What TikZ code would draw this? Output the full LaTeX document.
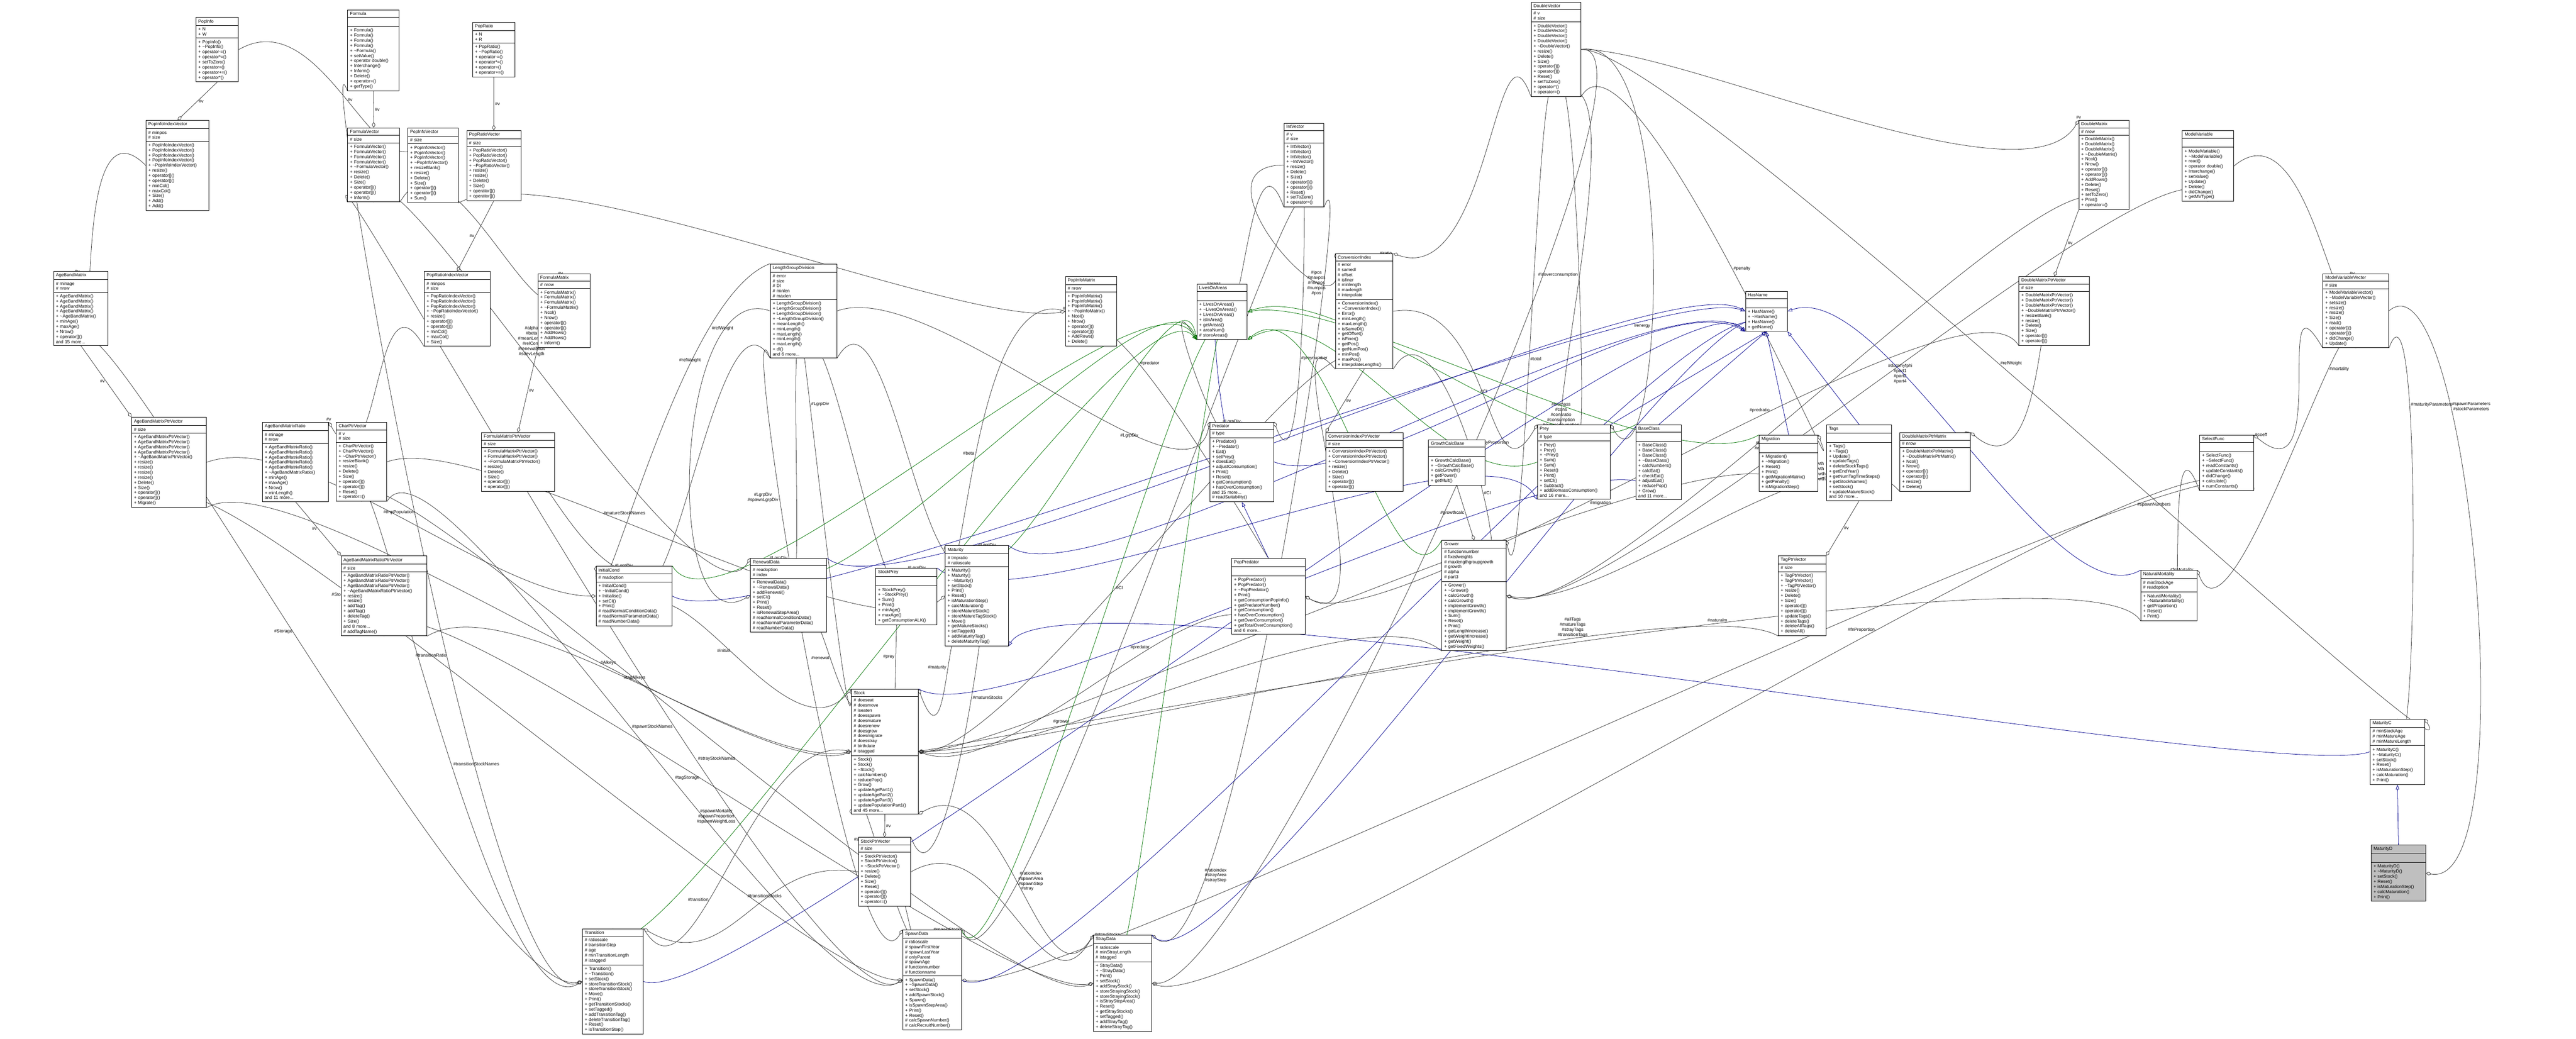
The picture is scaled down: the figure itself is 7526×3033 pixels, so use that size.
\documentclass[tikz,border=0pt]{standalone}
\usepackage{fontspec}
\setmainfont{Liberation Sans}
\usetikzlibrary{shapes.multipart,arrows.meta}
\pgfdeclarelayer{bg}
\pgfsetlayers{bg,main}
\newcommand{\ti}{\textasciitilde}
\newcommand{\cls}[7]{%
  \pgfmathsetmacro\clsw{#4*0.3-4}%
  \node[cls,text width=\clsw pt] (#1) at (#2,#3) {\centering #5\nodepart{two}#6\nodepart{three}#7};}
\newcommand{\clsg}[7]{%
  \pgfmathsetmacro\clsw{#4*0.3-4}%
  \node[cls,text width=\clsw pt,rectangle split part fill={black!25}] (#1) at (#2,#3) {\centering #5\nodepart{two}#6\nodepart{three}#7};}
\newcommand{\cv}[5]{(#1) .. controls +(#2:300) and +(#3:300) .. (#4) node[lbl,#5]}

\begin{document}
\begin{tikzpicture}[x=0.3pt,y=-0.3pt,
  cls/.style={draw, anchor=north west, rectangle split, rectangle split parts=3,
    rectangle split part fill={white}, inner xsep=2pt, inner ysep=1.6pt,
    font=\fontsize{3.9}{4.45}\selectfont, line width=0.45pt},
  uses/.style={draw=black!80, line width=0.35pt, -{Diamond[open,length=5pt,width=3pt]}},
  isa/.style={draw=blue!55!black, line width=0.35pt, -{Triangle[open,length=4pt,width=3pt]}},
  isap/.style={draw=green!45!black, line width=0.35pt, -{Triangle[open,length=4pt,width=3pt]}},
  lbl/.style={font=\fontsize{3.9}{4.45}\selectfont, align=center, inner sep=1pt}]
  \useasboundingbox (0,0) rectangle (7526,3033);

  \cls{popinfo}{572}{50}{124}{PopInfo}{+ N\\+ W}{+ PopInfo()\\+ \ti PopInfo()\\+ operator-=()\\+ operator*=()\\+ setToZero()\\+ operator=()\\+ operator+=()\\+ operator*()}
  \cls{formula}{1015}{28}{150}{Formula}{\strut}{+ Formula()\\+ Formula()\\+ Formula()\\+ Formula()\\+ \ti Formula()\\+ setValue()\\+ operator double()\\+ Interchange()\\+ Inform()\\+ Delete()\\+ operator=()\\+ getType()}
  \cls{popratio}{1380}{65}{124}{PopRatio}{+ N\\+ R}{+ PopRatio()\\+ \ti PopRatio()\\+ operator-=()\\+ operator*=()\\+ operator=()\\+ operator+=()}
  \cls{popinfoindexvector}{426}{351}{184}{PopInfoIndexVector}{\# minpos\\\# size}{+ PopInfoIndexVector()\\+ PopInfoIndexVector()\\+ PopInfoIndexVector()\\+ PopInfoIndexVector()\\+ \ti PopInfoIndexVector()\\+ resize()\\+ operator[]()\\+ operator[]()\\+ minCol()\\+ maxCol()\\+ Size()\\+ Add()\\+ Add()}
  \cls{formulavector}{1015}{373}{152}{FormulaVector}{\# size}{+ FormulaVector()\\+ FormulaVector()\\+ FormulaVector()\\+ FormulaVector()\\+ \ti FormulaVector()\\+ resize()\\+ Delete()\\+ Size()\\+ operator[]()\\+ operator[]()\\+ Inform()}
  \cls{popinfovector}{1191}{373}{147}{PopInfoVector}{\# size}{+ PopInfoVector()\\+ PopInfoVector()\\+ PopInfoVector()\\+ \ti PopInfoVector()\\+ resizeBlank()\\+ resize()\\+ Delete()\\+ Size()\\+ operator[]()\\+ operator[]()\\+ Sum()}
  \cls{popratiovector}{1363}{381}{158}{PopRatioVector}{\# size}{+ PopRatioVector()\\+ PopRatioVector()\\+ PopRatioVector()\\+ \ti PopRatioVector()\\+ resize()\\+ resize()\\+ Delete()\\+ Size()\\+ operator[]()\\+ operator[]()}
  \cls{agebandmatrix}{156}{792}{159}{AgeBandMatrix}{\# minage\\\# nrow}{+ AgeBandMatrix()\\+ AgeBandMatrix()\\+ AgeBandMatrix()\\+ AgeBandMatrix()\\+ \ti AgeBandMatrix()\\+ minAge()\\+ maxAge()\\+ Nrow()\\+ operator[]()\\and 15 more...}
  \cls{popratioindexvector}{1239}{792}{192}{PopRatioIndexVector}{\# minpos\\\# size}{+ PopRatioIndexVector()\\+ PopRatioIndexVector()\\+ PopRatioIndexVector()\\+ \ti PopRatioIndexVector()\\+ resize()\\+ operator[]()\\+ operator[]()\\+ minCol()\\+ maxCol()\\+ Size()}
  \cls{formulamatrix}{1571}{799}{153}{FormulaMatrix}{\# nrow}{+ FormulaMatrix()\\+ FormulaMatrix()\\+ FormulaMatrix()\\+ \ti FormulaMatrix()\\+ Ncol()\\+ Nrow()\\+ operator[]()\\+ operator[]()\\+ AddRows()\\+ AddRows()\\+ Inform()}
  \cls{lengthgroupdivision}{2250}{770}{194}{LengthGroupDivision}{\# error\\\# size\\\# Dl\\\# minlen\\\# maxlen}{+ LengthGroupDivision()\\+ LengthGroupDivision()\\+ LengthGroupDivision()\\+ \ti LengthGroupDivision()\\+ meanLength()\\+ minLength()\\+ maxLength()\\+ minLength()\\+ maxLength()\\+ dl()\\and 6 more...}
  \cls{intvector}{3751}{359}{116}{IntVector}{\# v\\\# size}{+ IntVector()\\+ IntVector()\\+ IntVector()\\+ \ti IntVector()\\+ resize()\\+ Delete()\\+ Size()\\+ operator[]()\\+ operator[]()\\+ Reset()\\+ setToZero()\\+ operator=()}
  \cls{popinfomatrix}{3112}{807}{149}{PopInfoMatrix}{\# nrow}{+ PopInfoMatrix()\\+ PopInfoMatrix()\\+ PopInfoMatrix()\\+ \ti PopInfoMatrix()\\+ Ncol()\\+ Nrow()\\+ operator[]()\\+ operator[]()\\+ AddRows()\\+ Delete()}
  \cls{livesonareas}{3496}{829}{147}{LivesOnAreas}{\strut}{+ LivesOnAreas()\\+ \ti LivesOnAreas()\\+ LivesOnAreas()\\+ isInArea()\\+ getAreas()\\+ areaNum()\\\# storeAreas()}
  \cls{doublevector}{4473}{6}{145}{DoubleVector}{\# v\\\# size}{+ DoubleVector()\\+ DoubleVector()\\+ DoubleVector()\\+ DoubleVector()\\+ \ti DoubleVector()\\+ resize()\\+ Delete()\\+ Size()\\+ operator[]()\\+ operator[]()\\+ Reset()\\+ setToZero()\\+ operator*()\\+ operator=()}
  \cls{conversionindex}{3901}{740}{168}{ConversionIndex}{\# error\\\# samedl\\\# offset\\\# isfiner\\\# minlength\\\# maxlength\\\# interpolate}{+ ConversionIndex()\\+ \ti ConversionIndex()\\+ Error()\\+ minLength()\\+ maxLength()\\+ isSameDl()\\+ getOffset()\\+ isFiner()\\+ getPos()\\+ getNumPos()\\+ minPos()\\+ maxPos()\\+ interpolateLengths()}
  \cls{hasname}{5099}{850}{122}{HasName}{\strut}{+ HasName()\\+ \ti HasName()\\+ HasName()\\+ getName()}
  \cls{doublematrix}{6073}{351}{146}{DoubleMatrix}{\# nrow}{+ DoubleMatrix()\\+ DoubleMatrix()\\+ DoubleMatrix()\\+ \ti DoubleMatrix()\\+ Ncol()\\+ Nrow()\\+ operator[]()\\+ operator[]()\\+ AddRows()\\+ Delete()\\+ Reset()\\+ setToZero()\\+ Print()\\+ operator=()}
  \cls{modelvariable}{6375}{381}{150}{ModelVariable}{\strut}{+ ModelVariable()\\+ \ti ModelVariable()\\+ read()\\+ operator double()\\+ Interchange()\\+ setValue()\\+ Update()\\+ Delete()\\+ didChange()\\+ getMVType()}
  \cls{doublematrixptrvector}{5898}{807}{206}{DoubleMatrixPtrVector}{\# size}{+ DoubleMatrixPtrVector()\\+ DoubleMatrixPtrVector()\\+ DoubleMatrixPtrVector()\\+ \ti DoubleMatrixPtrVector()\\+ resizeBlank()\\+ resize()\\+ Delete()\\+ Size()\\+ operator[]()\\+ operator[]()}
  \cls{modelvariablevector}{6786}{799}{192}{ModelVariableVector}{\# size}{+ ModelVariableVector()\\+ \ti ModelVariableVector()\\+ setsize()\\+ resize()\\+ resize()\\+ Size()\\+ read()\\+ operator[]()\\+ operator[]()\\+ didChange()\\+ Update()}
  \cls{agebandmatrixptrvector}{384}{1218}{218}{AgeBandMatrixPtrVector}{\# size}{+ AgeBandMatrixPtrVector()\\+ AgeBandMatrixPtrVector()\\+ AgeBandMatrixPtrVector()\\+ AgeBandMatrixPtrVector()\\+ \ti AgeBandMatrixPtrVector()\\+ resize()\\+ resize()\\+ resize()\\+ resize()\\+ Delete()\\+ Size()\\+ operator[]()\\+ operator[]()\\+ Migrate()}
  \cls{agebandmatrixratio}{766}{1233}{193}{AgeBandMatrixRatio}{\# minage\\\# nrow}{+ AgeBandMatrixRatio()\\+ AgeBandMatrixRatio()\\+ AgeBandMatrixRatio()\\+ AgeBandMatrixRatio()\\+ AgeBandMatrixRatio()\\+ \ti AgeBandMatrixRatio()\\+ minAge()\\+ maxAge()\\+ Nrow()\\+ minLength()\\and 11 more...}
  \cls{charptrvector}{982}{1233}{147}{CharPtrVector}{\# v\\\# size}{+ CharPtrVector()\\+ CharPtrVector()\\+ \ti CharPtrVector()\\+ resizeBlank()\\+ resize()\\+ Delete()\\+ Size()\\+ operator[]()\\+ operator[]()\\+ Reset()\\+ operator=()}
  \cls{formulamatrixptrvector}{1406}{1263}{213}{FormulaMatrixPtrVector}{\# size}{+ FormulaMatrixPtrVector()\\+ FormulaMatrixPtrVector()\\+ \ti FormulaMatrixPtrVector()\\+ resize()\\+ Delete()\\+ Size()\\+ operator[]()\\+ operator[]()}
  \cls{agebandmatrixratioptrvector}{996}{1623}{250}{AgeBandMatrixRatioPtrVector}{\# size}{+ AgeBandMatrixRatioPtrVector()\\+ AgeBandMatrixRatioPtrVector()\\+ AgeBandMatrixRatioPtrVector()\\+ \ti AgeBandMatrixRatioPtrVector()\\+ resize()\\+ resize()\\+ addTag()\\+ addTag()\\+ deleteTag()\\+ Size()\\and 8 more...\\\# addTagName()}
  \cls{initialcond}{1741}{1653}{222}{InitialCond}{\# readoption}{+ InitialCond()\\+ \ti InitialCond()\\+ Initialise()\\+ setCI()\\+ Print()\\\# readNormalConditionData()\\\# readNormalParameterData()\\\# readNumberData()}
  \cls{predator}{3534}{1232}{187}{Predator}{\# type}{+ Predator()\\+ \ti Predator()\\+ Eat()\\+ setPrey()\\+ doesEat()\\+ adjustConsumption()\\+ Print()\\+ Reset()\\+ getConsumption()\\+ hasOverConsumption()\\and 15 more...\\\# readSuitability()}
  \cls{renewaldata}{2192}{1630}{223}{RenewalData}{\# readoption\\\# index}{+ RenewalData()\\+ \ti RenewalData()\\+ addRenewal()\\+ setCI()\\+ Print()\\+ Reset()\\+ isRenewalStepArea()\\\# readNormalConditionData()\\\# readNormalParameterData()\\\# readNumberData()}
  \cls{stockprey}{2558}{1659}{179}{StockPrey}{\strut}{+ StockPrey()\\+ \ti StockPrey()\\+ Sum()\\+ Print()\\+ minAge()\\+ maxAge()\\+ getConsumptionALK()}
  \cls{maturity}{2761}{1593}{184}{Maturity}{\# tmpratio\\\# ratioscale}{+ Maturity()\\+ Maturity()\\+ \ti Maturity()\\+ setStock()\\+ Print()\\+ Reset()\\+ isMaturationStep()\\+ calcMaturation()\\+ storeMatureStock()\\+ storeMatureTagStock()\\+ Move()\\+ getMatureStocks()\\+ setTagged()\\+ addMaturityTag()\\+ deleteMaturityTag()}
  \cls{poppredator}{3598}{1630}{214}{PopPredator}{\strut}{+ PopPredator()\\+ PopPredator()\\+ \ti PopPredator()\\+ Print()\\+ getConsumptionPopInfo()\\+ getPredatorNumber()\\+ getConsumption()\\+ hasOverConsumption()\\+ getOverConsumption()\\+ getTotalOverConsumption()\\and 6 more...}
  \cls{conversionindexptrvector}{3873}{1263}{225}{ConversionIndexPtrVector}{\# size}{+ ConversionIndexPtrVector()\\+ ConversionIndexPtrVector()\\+ \ti ConversionIndexPtrVector()\\+ resize()\\+ Delete()\\+ Size()\\+ operator[]()\\+ operator[]()}
  \cls{growthcalcbase}{4173}{1284}{165}{GrowthCalcBase}{\strut}{+ GrowthCalcBase()\\+ \ti GrowthCalcBase()\\+ calcGrowth()\\+ getPower()\\+ getMult()}
  \cls{prey}{4491}{1240}{213}{Prey}{\# type}{+ Prey()\\+ Prey()\\+ \ti Prey()\\+ Sum()\\+ Sum()\\+ Reset()\\+ Print()\\+ setCI()\\+ Subtract()\\+ addBiomassConsumption()\\and 16 more...}
  \cls{baseclass}{4779}{1240}{133}{BaseClass}{\strut}{+ BaseClass()\\+ BaseClass()\\+ BaseClass()\\+ \ti BaseClass()\\+ calcNumbers()\\+ calcEat()\\+ checkEat()\\+ adjustEat()\\+ reducePop()\\+ Grow()\\and 11 more...}
  \cls{migration}{5139}{1270}{172}{Migration}{\strut}{+ Migration()\\+ \ti Migration()\\+ Reset()\\+ Print()\\+ getMigrationMatrix()\\+ getPenalty()\\+ isMigrationStep()}
  \cls{tags}{5336}{1240}{190}{Tags}{\strut}{+ Tags()\\+ \ti Tags()\\+ Update()\\+ updateTags()\\+ deleteStockTags()\\+ getEndYear()\\+ getNumTagTimeSteps()\\+ getStockNames()\\+ setStock()\\+ updateMatureStock()\\and 10 more...}
  \cls{doublematrixptrmatrix}{5550}{1263}{206}{DoubleMatrixPtrMatrix}{\# nrow}{+ DoubleMatrixPtrMatrix()\\+ \ti DoubleMatrixPtrMatrix()\\+ Ncol()\\+ Nrow()\\+ operator[]()\\+ operator[]()\\+ resize()\\+ Delete()}
  \cls{grower}{4212}{1578}{188}{Grower}{\# functionnumber\\\# fixedweights\\\# maxlengthgroupgrowth\\\# growth\\\# alpha\\\# part3}{+ Grower()\\+ \ti Grower()\\+ calcGrowth()\\+ calcGrowth()\\+ implementGrowth()\\+ implementGrowth()\\+ Sum()\\+ Reset()\\+ Print()\\+ getLengthIncrease()\\+ getWeightIncrease()\\+ getWeight()\\+ getFixedWeights()}
  \cls{tagptrvector}{5195}{1623}{139}{TagPtrVector}{\# size}{+ TagPtrVector()\\+ TagPtrVector()\\+ \ti TagPtrVector()\\+ resize()\\+ Delete()\\+ Size()\\+ operator[]()\\+ operator[]()\\+ updateTags()\\+ deleteTags()\\+ deleteAllTags()\\+ deleteAll()}
  \cls{selectfunc}{6426}{1270}{157}{SelectFunc}{\strut}{+ SelectFunc()\\+ \ti SelectFunc()\\+ readConstants()\\+ updateConstants()\\+ didChange()\\+ calculate()\\+ numConstants()}
  \cls{naturalmortality}{6254}{1665}{164}{NaturalMortality}{\# minStockAge\\\# readoption}{+ NaturalMortality()\\+ \ti NaturalMortality()\\+ getProportion()\\+ Reset()\\+ Print()}
  \cls{maturityc}{6924}{2099}{159}{MaturityC}{\# minStockAge\\\# minMatureAge\\\# minMatureLength}{+ MaturityC()\\+ \ti MaturityC()\\+ setStock()\\+ Reset()\\+ isMaturationStep()\\+ calcMaturation()\\+ Print()}
  \clsg{maturityd}{6927}{2467}{159}{MaturityD}{\strut}{+ MaturityD()\\+ \ti MaturityD()\\+ setStock()\\+ Reset()\\+ isMaturationStep()\\+ calcMaturation()\\+ Print()}
  \cls{stock}{2487}{2012}{195}{Stock}{\# doeseat\\\# doesmove\\\# iseaten\\\# doesspawn\\\# doesmature\\\# doesrenew\\\# doesgrow\\\# doesmigrate\\\# doesstray\\\# birthdate\\\# istagged}{+ Stock()\\+ Stock()\\+ \ti Stock()\\+ calcNumbers()\\+ reducePop()\\+ Grow()\\+ updateAgePart1()\\+ updateAgePart2()\\+ updateAgePart3()\\+ updatePopulationPart1()\\and 45 more...}
  \cls{stockptrvector}{2507}{2445}{153}{StockPtrVector}{\# size}{+ StockPtrVector()\\+ StockPtrVector()\\+ \ti StockPtrVector()\\+ resize()\\+ Delete()\\+ Size()\\+ Reset()\\+ operator[]()\\+ operator[]()\\+ operator=()}
  \cls{spawndata}{2637}{2715}{171}{SpawnData}{\# ratioscale\\\# spawnFirstYear\\\# spawnLastYear\\\# onlyParent\\\# spawnAge\\\# functionnumber\\\# functionname}{+ SpawnData()\\+ \ti SpawnData()\\+ setStock()\\+ addSpawnStock()\\+ Spawn()\\+ isSpawnStepArea()\\+ Print()\\+ Reset()\\\# calcSpawnNumber()\\\# calcRecruitNumber()}
  \cls{straydata}{3194}{2731}{170}{StrayData}{\# ratioscale\\\# minStrayLength\\\# istagged}{+ StrayData()\\+ \ti StrayData()\\+ Print()\\+ setStock()\\+ addStrayStock()\\+ storeStrayingStock()\\+ storeStrayingStock()\\+ isStrayStepArea()\\+ Reset()\\+ getStrayStocks()\\+ setTagged()\\+ addStrayTag()\\+ deleteStrayTag()}
  \cls{transition}{1701}{2712}{178}{Transition}{\# ratioscale\\\# transitionStep\\\# age\\\# minTransitionLength\\\# istagged}{+ Transition()\\+ \ti Transition()\\+ setStock()\\+ storeTransitionStock()\\+ storeTransitionStock()\\+ Move()\\+ Print()\\+ getTransitionStocks()\\+ setTagged()\\+ addTransitionTag()\\+ deleteTransitionTag()\\+ Reset()\\+ isTransitionStep()}

  \begin{pgfonlayer}{bg}
  \draw[uses] (popinfo.south) -- node[lbl,right]{\#v} (popinfoindexvector.north);
  \draw[uses] \cv{popinfo.east}{-30}{120}{popinfovector.north}{pos=.5,above}{\#v};
  \draw[uses] (formula.south) -- node[lbl,right]{\#v} (formulavector.north);
  \draw[uses] (popratio.south) -- node[lbl,right]{\#v} (popratiovector.north);
  \draw[uses] \cv{popinfoindexvector.west}{-135}{80}{agebandmatrix.north}{left}{\#v};
  \draw[uses] (popratiovector.south) -- node[lbl,left]{\#v} (popratioindexvector.north);
  \draw[uses] \cv{formulavector.south east}{-60}{100}{formulamatrix.north}{left}{\#v};
  \draw[uses] \cv{popinfovector.south east}{-30}{170}{popinfomatrix.west}{above}{\#v};
  \draw[uses] (agebandmatrix.south) -- node[lbl,left]{\#v} (agebandmatrixptrvector.north west);
  \draw[uses] \cv{popratioindexvector.south west}{-120}{60}{agebandmatrixratio.north east}{above}{\#v};
  \draw[uses] (formulamatrix.south west) -- node[lbl,right]{\#v} (formulamatrixptrvector.north);
  \draw[uses] (agebandmatrixratio.south) -- node[lbl,left]{\#v} (agebandmatrixratioptrvector.north west);
  \draw[uses] \cv{intvector.west}{180}{80}{conversionindex.north west}{pos=.8,left}{\#ipos\\\#maxpos\\\#minpos\\\#numpos\\\#pos};
  \draw[uses] \cv{doublevector.south west}{-110}{20}{conversionindex.north east}{left}{\#iratio};
  \draw[uses] \cv{intvector.south west}{-110}{80}{livesonareas.north}{left}{\#areas};
  \draw[uses] (conversionindex.south) -- node[lbl,right]{\#v} (conversionindexptrvector.north west);
  \draw[uses] \cv{doublevector.east}{0}{120}{doublematrix.north west}{above}{\#v};
  \draw[uses] (doublematrix.south west) -- node[lbl,right]{\#v} (doublematrixptrvector.north);
  \draw[uses] \cv{modelvariable.east}{-40}{100}{modelvariablevector.north}{left}{\#v};
  \draw[uses] \cv{doublematrixptrvector.south}{-100}{40}{doublematrixptrmatrix.north east}{left}{\#v};
  \draw[uses] \cv{modelvariablevector.south west}{-120}{40}{selectfunc.north east}{right}{\#coeff};
  \draw[uses] \cv{selectfunc.south west}{-110}{80}{naturalmortality.north}{right}{\#fnMortality};
  \draw[uses] (tags.south) -- node[lbl,right]{\#v} (tagptrvector.north east);
  \draw[uses] (stock.south) -- node[lbl,right]{\#v} (stockptrvector.north);
  \draw[uses] (growthcalcbase.south) -- node[lbl,left]{\#growthcalc} (grower.north);
  \draw[uses] \cv{doublevector.south}{-100}{80}{grower.north east}{pos=.55,right}{\#total};
  \draw[uses] \cv{doublevector.south}{-80}{80}{prey.north}{pos=.8,left}{\#biomass\\\#cons\\\#consratio\\\#consumption\\\#overconsumption\\\#ratio\\\#useratio};
  \draw[uses] \cv{doublevector.south east}{-60}{70}{migration.north east}{pos=.5,right}{\#penalty};
  \draw[uses] \cv{doublevector.east}{-10}{60}{prey.north east}{pos=.6,left}{\#energy};
  \draw[uses] \cv{doublematrix.south}{-100}{20}{grower.east}{pos=.6,right}{\#lgrowth\\\#wgrowth};
  \draw[uses] \cv{doublematrixptrmatrix.south west}{-130}{10}{grower.east}{pos=.3,above}{\#calcLengthGrowth\\\#calcWeightGrowth\\\#interpLengthGrowth\\\#interpWeightGrowth};
  \draw[uses] \cv{doublematrixptrvector.south west}{-120}{30}{poppredator.east}{pos=.4,left}{\#predratio};
  \draw[uses] \cv{modelvariable.south}{-100}{20}{grower.east}{pos=.5,right}{\#dummyfphi\\\#part1\\\#part2\\\#part4};
  \draw[uses] \cv{conversionindex.south east}{-60}{60}{grower.north}{pos=.6,right}{\#CI};
  \draw[uses] \cv{conversionindex.east}{-10}{120}{prey.north west}{pos=.5,above}{\#CI};
  \draw[uses] \cv{conversionindex.south west}{-130}{30}{poppredator.east}{pos=.5,above}{\#CI};
  \draw[uses] \cv{conversionindex.south}{-100}{0}{stock.east}{pos=.6,right}{\#CI};
  \draw[uses] \cv{lengthgroupdivision.south west}{-120}{70}{initialcond.north}{left}{\#LgrpDiv};
  \draw[uses] \cv{lengthgroupdivision.south}{-100}{80}{renewaldata.north}{left}{\#LgrpDiv};
  \draw[uses] \cv{lengthgroupdivision.south}{-80}{100}{stockprey.north}{right}{\#LgrpDiv};
  \draw[uses] \cv{lengthgroupdivision.south east}{-60}{120}{maturity.north}{right}{\#LgrpDiv};
  \draw[uses] \cv{lengthgroupdivision.east}{-20}{100}{predator.north west}{pos=.7,left}{\#LgrpDiv};
  \draw[uses] \cv{lengthgroupdivision.south west}{-110}{120}{spawndata.north west}{pos=.35,left}{\#LgrpDiv\\\#spawnLgrpDiv};
  \draw[uses] \cv{lengthgroupdivision.south}{-95}{90}{stock.north west}{pos=.3,right}{\#LgrpDiv};
  \draw[uses] \cv{lengthgroupdivision.west}{200}{150}{renewaldata.west}{pos=.2,above}{\#refWeight};
  \draw[uses] \cv{lengthgroupdivision.north west}{160}{90}{initialcond.north west}{pos=.3,above}{\#refWeight};
  \draw[uses] \cv{popinfomatrix.south}{-90}{60}{poppredator.north}{pos=.3,right}{\#predator};
  \draw[uses] \cv{popinfomatrix.west}{200}{80}{maturity.north west}{pos=.5,left}{\#beta};
  \draw[uses] \cv{livesonareas.south west}{-120}{90}{predator.north}{left}{\#LgrpDiv};
  \draw[uses] \cv{intvector.south}{-90}{70}{predator.north east}{pos=.6,right}{\#preynumber};
  \draw[uses] \cv{agebandmatrixptrvector.east}{-20}{180}{initialcond.west}{pos=.5,above}{\#tmpPopulation};
  \draw[uses] \cv{agebandmatrixptrvector.south east}{-30}{160}{stock.west}{pos=.6,above}{\#Alkeys};
  \draw[uses] \cv{agebandmatrixratioptrvector.south east}{-30}{170}{stock.west}{pos=.5,above}{\#tagAlkeys};
  \draw[uses] \cv{charptrvector.south}{-90}{150}{transition.west}{pos=.55,right}{\#transitionStockNames};
  \draw[uses] \cv{charptrvector.south east}{-60}{150}{spawndata.west}{pos=.5,right}{\#spawnStockNames};
  \draw[uses] \cv{charptrvector.east}{-20}{140}{maturity.west}{pos=.4,right}{\#matureStockNames};
  \draw[uses] \cv{charptrvector.south}{-100}{160}{straydata.west}{pos=.55,left}{\#strayStockNames};
  \draw[uses] \cv{formulamatrixptrvector.south}{-90}{150}{initialcond.north east}{pos=.4,left}{\#initialNumber};
  \draw[uses] \cv{formulavector.south}{-90}{120}{renewaldata.north west}{pos=.45,right}{\#alpha\\\#beta\\\#meanLength\\\#relCond\\\#renewalMult\\\#sdevLength};
  \draw[uses] \cv{formulavector.south west}{-110}{150}{spawndata.west}{pos=.7,left}{\#spawnMortality\\\#spawnProportion\\\#spawnWeightLoss};
  \draw[uses] \cv{formula.south west}{-110}{160}{transition.west}{pos=.6,left}{\#transitionRatio};
  \draw[uses] \cv{agebandmatrix.south}{-90}{170}{transition.west}{pos=.5,left}{\#Storage};
  \draw[uses] \cv{agebandmatrixptrvector.south}{-90}{180}{spawndata.west}{pos=.35,left}{\#Storage};
  \draw[uses] \cv{agebandmatrixratioptrvector.south}{-90}{170}{straydata.west}{pos=.5,left}{\#tagStorage};
  \draw[uses] \cv{initialcond.south}{-70}{130}{stock.north west}{pos=.5,left}{\#initial};
  \draw[uses] \cv{renewaldata.south}{-70}{120}{stock.north}{pos=.5,left}{\#renewal};
  \draw[uses] \cv{stockprey.south}{-100}{80}{stock.north}{pos=.5,left}{\#prey};
  \draw[uses] \cv{maturity.south}{-110}{70}{stock.north east}{pos=.5,left}{\#maturity};
  \draw[uses] \cv{poppredator.south}{-120}{20}{stock.east}{pos=.4,left}{\#predator};
  \draw[uses] \cv{grower.south west}{-140}{10}{stock.east}{pos=.7,above}{\#grower};
  \draw[uses] \cv{transition.north east}{60}{190}{stock.west}{pos=.4,left}{\#transition};
  \draw[uses] \cv{spawndata.north}{100}{-90}{stock.south west}{pos=.6,left}{\#spawner};
  \draw[uses] \cv{straydata.north west}{120}{-30}{stock.south east}{pos=.5,right}{\#stray};
  \draw[uses] \cv{naturalmortality.south west}{-120}{-10}{stock.east}{pos=.4,above}{\#naturalm};
  \draw[uses] \cv{migration.south}{-100}{0}{stock.east}{pos=.3,left}{\#migration};
  \draw[uses] \cv{tagptrvector.south west}{-150}{0}{stock.east}{pos=.3,above}{\#allTags\\\#matureTags\\\#strayTags\\\#transitionTags};
  \draw[uses] \cv{stockptrvector.south}{-80}{100}{spawndata.north}{right}{\#spawnStocks};
  \draw[uses] \cv{stockptrvector.east}{-30}{120}{straydata.north west}{right}{\#strayStocks};
  \draw[uses] \cv{stockptrvector.north east}{70}{-80}{maturity.south}{pos=.6,right}{\#matureStocks};
  \draw[uses] \cv{stockptrvector.west}{190}{30}{transition.north east}{pos=.4,above}{\#transitionStocks};
  \draw[uses] \cv{intvector.south}{-90}{60}{spawndata.north east}{pos=.8,right}{\#ratioindex\\\#spawnArea\\\#spawnStep};
  \draw[uses] \cv{intvector.south east}{-70}{40}{straydata.north east}{pos=.8,right}{\#ratioindex\\\#strayArea\\\#strayStep};
  \draw[uses] \cv{selectfunc.south}{-90}{20}{straydata.east}{pos=.4,left}{\#fnProportion};
  \draw[uses] \cv{selectfunc.south east}{-80}{10}{spawndata.east}{pos=.2,right}{\#spawnNumbers};
  \draw[uses] \cv{modelvariablevector.south}{-90}{70}{naturalmortality.north east}{pos=.3,right}{\#mortality};
  \draw[uses] \cv{modelvariablevector.south east}{-70}{80}{maturityc.north}{pos=.3,right}{\#maturityParameters};
  \draw[uses] \cv{modelvariablevector.east}{-40}{10}{maturityd.east}{pos=.3,right}{\#spawnParameters\\\#stockParameters};
  \draw[uses] \cv{doublevector.east}{0}{60}{maturityc.north east}{pos=.45,right}{\#refWeight};
  \draw[uses] \cv{doublevector.east}{-5}{0}{straydata.east}{pos=.45,right}{\#strayProportion};
  \draw[uses] \cv{prey.north}{120}{-30}{doublevector.south}{pos=.5,left}{\#isoverconsumption};
  \draw[isa] (prey.north east) -- (hasname.south);
  \draw[isa] (baseclass.north) -- (hasname.south);
  \draw[isa] (migration.north) -- (hasname.south);
  \draw[isa] (tags.north) -- (hasname.south east);
  \draw[isa] (predator.east) .. controls +(20:300) and +(-150:300) .. (hasname.south west);
  \draw[isa] (maturity.north east) .. controls +(40:300) and +(-140:300) .. (hasname.south west);
  \draw[isa] (naturalmortality.north west) .. controls +(150:300) and +(-20:300) .. (hasname.east);
  \draw[isa] (spawndata.east) .. controls +(30:300) and +(-120:300) .. (hasname.south);
  \draw[isa] (straydata.north east) .. controls +(50:300) and +(-110:300) .. (hasname.south);
  \draw[isa] (transition.east) .. controls +(20:300) and +(-130:300) .. (hasname.south west);
  \draw[isa] (renewaldata.north east) .. controls +(40:300) and +(-150:300) .. (hasname.west);
  \draw[isa] (initialcond.east) .. controls +(30:300) and +(-160:300) .. (hasname.west);
  \draw[isa] (poppredator.north) -- (predator.south);
  \draw[isa] (stockprey.north east) .. controls +(40:300) and +(-120:300) .. (prey.south west);
  \draw[isa] (stock.north east) .. controls +(30:300) and +(-110:300) .. (baseclass.south);
  \draw[isa] (maturityc.west) .. controls +(160:300) and +(-60:300) .. (maturity.south east);
  \draw[isa] (maturityd.north) -- (maturityc.south);
  \draw[isa] (predator.north) .. controls +(100:300) and +(-100:300) .. (livesonareas.south);
  \draw[isap] (prey.west) .. controls +(160:300) and +(-30:300) .. (livesonareas.south east);
  \draw[isap] (baseclass.north west) .. controls +(150:300) and +(-20:300) .. (livesonareas.east);
  \draw[isap] (migration.north west) .. controls +(150:300) and +(-10:300) .. (livesonareas.east);
  \draw[isap] (maturity.north) .. controls +(80:300) and +(-100:300) .. (livesonareas.south west);
  \draw[isap] (renewaldata.north) .. controls +(80:300) and +(-110:300) .. (livesonareas.south west);
  \draw[isap] (initialcond.north east) .. controls +(60:300) and +(-120:300) .. (livesonareas.south west);
  \draw[isap] (spawndata.north east) .. controls +(70:300) and +(-100:300) .. (livesonareas.south);
  \draw[isap] (straydata.north) .. controls +(90:300) and +(-90:300) .. (livesonareas.south);
  \draw[isap] (transition.north) .. controls +(80:300) and +(-130:300) .. (livesonareas.south west);
  \draw[isap] (grower.north west) .. controls +(120:300) and +(-40:300) .. (livesonareas.south east);
  \end{pgfonlayer}
\end{tikzpicture}
\end{document}
